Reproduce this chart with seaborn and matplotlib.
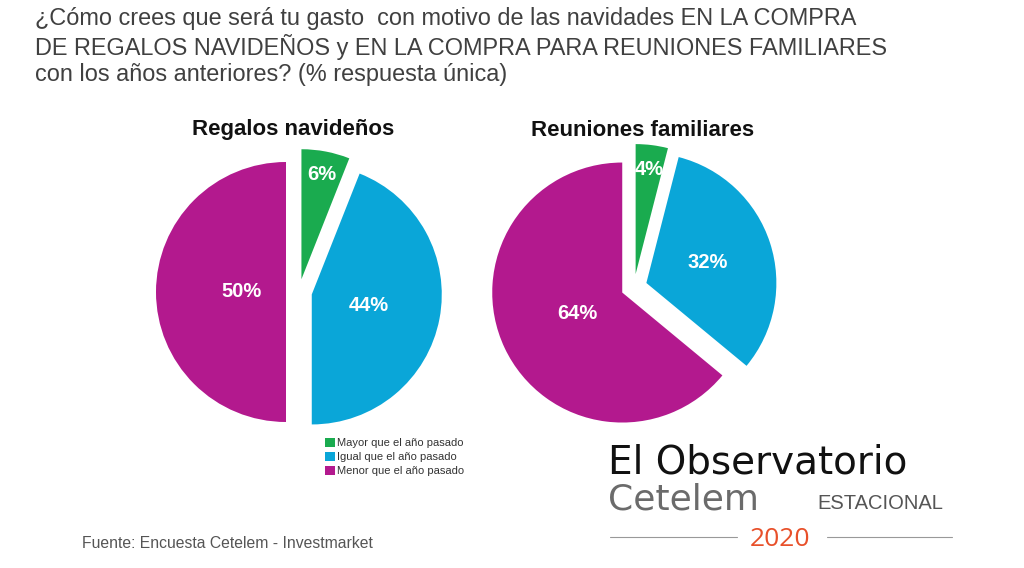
import numpy as np
import matplotlib
matplotlib.use("Agg")
import matplotlib.pyplot as plt
import seaborn as sns
from matplotlib.patches import Rectangle
from matplotlib.lines import Line2D

# ---- data ----
categories = ["Mayor que el año pasado", "Igual que el año pasado", "Menor que el año pasado"]
regalos = [6, 44, 50]
reuniones = [4, 32, 64]
pie_titles = ["Regalos navideños", "Reuniones familiares"]
colors = ["#1aab4f", "#0aa6d8", "#b3198e"]

title_lines = ["¿Cómo crees que será tu gasto  con motivo de las navidades EN LA COMPRA",
               "DE REGALOS NAVIDEÑOS y EN LA COMPRA PARA REUNIONES FAMILIARES",
               "con los años anteriores? (% respuesta única)"]
source = "Fuente: Encuesta Cetelem - Investmarket"

sns.set_theme(style="white")
plt.rcParams["font.family"] = ["Liberation Sans", "DejaVu Sans"]

W, H = 1024, 568
fig = plt.figure(figsize=(W / 100, H / 100), dpi=100)
fig.patch.set_facecolor("white")

def px_axes(cx, cy, size):
    return fig.add_axes([(cx - size / 2) / W, (H - cy - size / 2) / H, size / W, size / H])

def fy(y):
    return 1 - y / H

R_PX = 130
LIM = 1.25
SIZE = R_PX * 2 * LIM

pies = [
    (regalos, 299, 292, [0.82, 0.45, 0.34], 293),
    (reuniones, 634, 287, [0.81, 0.50, 0.38], 643),
]

for (vals, cx, cy, dists, tx), ttl in zip(pies, pie_titles):
    ax = px_axes(cx, cy, SIZE)
    wedges, texts, autotexts = ax.pie(
        vals, colors=colors, startangle=90, counterclock=False,
        explode=[0.1] * len(vals), autopct="%d%%",
        textprops=dict(color="white", fontsize=14.5, fontweight="bold"),
        wedgeprops=dict(linewidth=0),
    )
    for w, t, d in zip(wedges, autotexts, dists):
        ang = np.deg2rad((w.theta1 + w.theta2) / 2)
        c = w.center
        t.set_position((c[0] + d * np.cos(ang), c[1] + d * np.sin(ang)))
    ax.set_xlim(-LIM, LIM)
    ax.set_ylim(-LIM, LIM)
    ax.set_aspect("equal")
    ax.axis("off")
    fig.text(tx / W, fy(130), ttl, ha="center", va="center",
             fontsize=16, fontweight="bold", color="#111111")

# title
for i, line in enumerate(title_lines):
    fig.text(35 / W, fy(19 + 28 * i), line, ha="left", va="center",
             fontsize=16.9, color="#404040")

# legend
legend_handles = [Rectangle((0, 0), 1, 1, facecolor=c, edgecolor="none") for c in colors]
fig.legend(legend_handles, categories, loc="upper left",
           bbox_to_anchor=(315 / W, fy(428)), frameon=False, fontsize=8,
           handlelength=0.9, handleheight=0.9, handletextpad=0.15,
           labelspacing=0.3, labelcolor="#333333")

# source
fig.text(82 / W, fy(543), source, ha="left", va="center", fontsize=11.3, color="#555555")

# logo
fig.text(608 / W, fy(473), "El Observatorio", ha="left", va="baseline",
         fontsize=28, color="#111111", family=["DejaVu Sans"])
fig.text(608 / W, fy(510), "Cetelem", ha="left", va="baseline",
         fontsize=26, color="#6b6b6b", family=["DejaVu Sans"])
fig.text(817 / W, fy(509), "ESTACIONAL", ha="left", va="baseline",
         fontsize=14.5, color="#555555", family=["Liberation Sans"])
fig.text(780 / W, fy(546), "2020", ha="center", va="baseline",
         fontsize=19, color="#e8502a", family=["Open Sans", "DejaVu Sans"])
fig.add_artist(Line2D([610 / W, 737 / W], [fy(537)] * 2, color="#999999", lw=0.8))
fig.add_artist(Line2D([827 / W, 952 / W], [fy(537)] * 2, color="#999999", lw=0.8))

fig.savefig("out.png", dpi=100, facecolor="white")
